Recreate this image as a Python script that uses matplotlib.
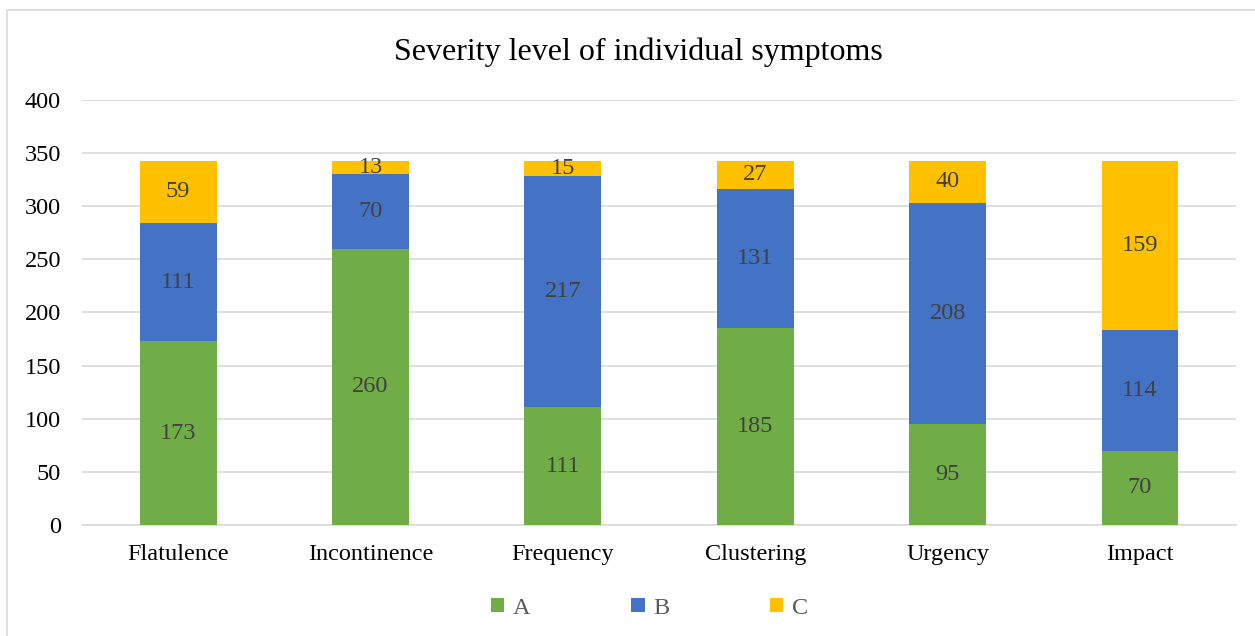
import matplotlib.pyplot as plt
import numpy as np
from matplotlib.patches import Rectangle

categories = ["Flatulence", "Incontinence", "Frequency", "Clustering", "Urgency", "Impact"]
a_vals = [173, 260, 111, 185, 95, 70]
b_vals = [111, 70, 217, 131, 208, 114]
c_vals = [59, 13, 15, 27, 40, 159]
series_names = ["A", "B", "C"]
colors = ["#70ad47", "#4472c4", "#ffc000"]

plt.rcParams['font.family'] = ['Liberation Serif', 'DejaVu Serif']

fig = plt.figure(figsize=(12.55, 6.36), dpi=100)
ax = fig.add_axes([0.0653, 0.1745, 0.9197, 0.6683])

# chart border like Excel
fig.patches.append(Rectangle((7/1255, -0.1), 1.2, 0.1 + (636-10)/636, transform=fig.transFigure,
                             fill=False, edgecolor="#d9d9d9", lw=1.2))

x = np.arange(len(categories))
bottom = np.zeros(len(categories))
for vals, name, col in zip([a_vals, b_vals, c_vals], series_names, colors):
    bars = ax.bar(x, vals, width=0.4, bottom=bottom, color=col, label=name, zorder=3)
    ax.bar_label(bars, labels=[str(v) for v in vals], label_type='center',
                 fontsize=17.5, color="#404040")
    bottom += np.array(vals)

ax.set_xlim(-0.5, len(categories) - 0.5)
ax.set_ylim(0, 400)
ax.set_yticks(np.arange(0, 401, 50))
ax.set_xticks(x)
ax.set_xticklabels(categories)
ax.tick_params(axis='both', length=0, labelsize=17.5, colors="black")
ax.tick_params(axis='y', pad=15)
ax.tick_params(axis='x', pad=14)
ax.grid(axis='y', color="#d9d9d9", lw=1.2, zorder=0)
for s in ['top', 'right', 'left']:
    ax.spines[s].set_visible(False)
ax.spines['bottom'].set_color("#d9d9d9")
ax.spines['bottom'].set_linewidth(1.2)

fig.text(0.5085, 1 - 52/636, "Severity level of individual symptoms", ha='center', va='center',
         fontsize=23, color="black")

leg = fig.legend(loc='center', bbox_to_anchor=(0.5175, 1 - 608/636), ncol=3, frameon=False,
                 fontsize=17.5, handlelength=0.55, handleheight=0.55, columnspacing=4.15,
                 handletextpad=0.35)
for t in leg.get_texts():
    t.set_color("#595959")

fig.savefig("out.png", dpi=100)
